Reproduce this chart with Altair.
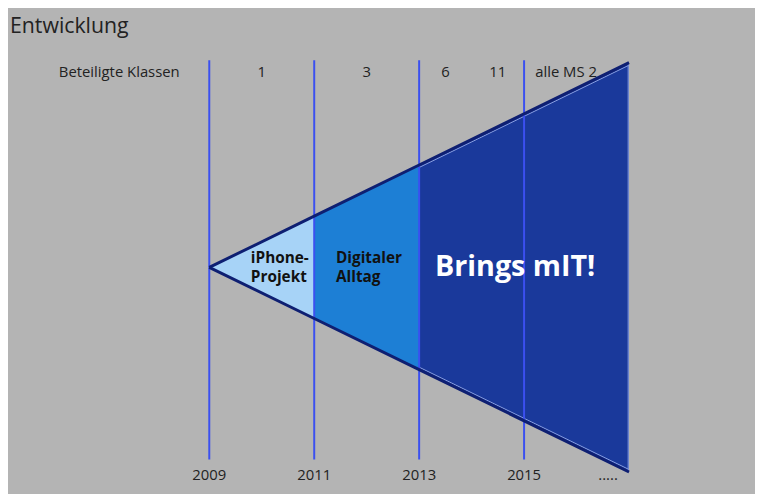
import altair as alt
import pandas as pd

# ---- data ----
phases = ["iPhone-Projekt", "Digitaler Alltag", "Brings mIT!"]
phase_labels = ["iPhone-\nProjekt", "Digitaler\nAlltag", "Brings mIT!"]
phase_start = [2009, 2011, 2013]
phase_end = [2011, 2013, 2017]
# half width of the wedge (percent of final width) at each boundary year
edge_years = [2009, 2011, 2013, 2017]
edge_spread = [0, 25, 50, 100]

rule_years = [2009, 2011, 2013, 2015]
tick_labels = ["2009", "2011", "2013", "2015"]

klassen_start = [2009, 2011, 2013, 2014, 2015]
klassen_end = [2011, 2013, 2014, 2015, 2016.6]
klassen_labels = ["1", "3", "6", "11", "alle MS 2"]

more_year = [2016.6]
more_label = ["....."]

phase_colors = ["#a7d3f7", "#1d7fd5", "#1a399b"]

spread = dict(zip(edge_years, edge_spread))

area_rows = []
for p, s, e in zip(phases, phase_start, phase_end):
    for yr in (s, e):
        area_rows.append({"phase": p, "year": yr, "top": spread[yr], "bottom": -spread[yr]})
area_df = pd.DataFrame(area_rows)

edge_rows = []
for yr, sp in zip(edge_years, edge_spread):
    edge_rows.append({"side": "oben", "year": yr, "v": sp})
    edge_rows.append({"side": "unten", "year": yr, "v": -sp})
edge_df = pd.DataFrame(edge_rows)

rule_df = pd.DataFrame({"year": rule_years, "label": tick_labels})
klassen_df = pd.DataFrame({"start": klassen_start, "end": klassen_end, "label": klassen_labels})

xscale = alt.Scale(domain=[2005.164, 2019.401], nice=False, zero=False)
yscale = alt.Scale(domain=[-109.5, 110.0], nice=False, zero=False)


def X(f):
    return alt.X(f, scale=xscale, axis=None)


def Y(f):
    return alt.Y(f, scale=yscale, axis=None)


areas = alt.Chart(area_df).mark_area(opacity=1).encode(
    x=X("year:Q"),
    y=alt.Y("top:Q", scale=yscale, axis=None, stack=None),
    y2="bottom:Q",
    color=alt.Color("phase:N", scale=alt.Scale(domain=phases, range=phase_colors), legend=None),
    detail="phase:N",
)

rules = alt.Chart(rule_df).transform_calculate(
    ytop="101.2", ybot="-93.9"
).mark_rule(color="#3b50f0", strokeWidth=2).encode(
    x=X("year:Q"), y=Y("ytop:Q"), y2="ybot:Q"
)

edges = alt.Chart(edge_df).mark_line(color="#0e1f72", strokeWidth=3).encode(
    x=X("year:Q"), y=Y("v:Q"), detail="side:N"
)

# thin light inner highlight along the dark part of the wedge
glow_top = alt.Chart(edge_df).transform_filter(
    (alt.datum.side == "oben") & (alt.datum.year >= 2013)
).mark_line(color="#8a9fe0", strokeWidth=1, yOffset=2.5).encode(
    x=X("year:Q"), y=Y("v:Q")
)
glow_bot = alt.Chart(edge_df).transform_filter(
    (alt.datum.side == "unten") & (alt.datum.year >= 2013)
).mark_line(color="#8a9fe0", strokeWidth=1, yOffset=-2.5).encode(
    x=X("year:Q"), y=Y("v:Q")
)
glow_right = alt.Chart(edge_df).transform_filter(
    (alt.datum.side == "oben") & (alt.datum.year == 2017)
).transform_calculate(vb="-datum.v").mark_rule(
    color="#7f95da", strokeWidth=1.2, xOffset=-0.8
).encode(x=X("year:Q"), y=Y("v:Q"), y2="vb:Q")

label_font = dict(font="Open Sans", fontSize=15, color="#222222", baseline="middle")

year_text = alt.Chart(rule_df).transform_calculate(yy="-101.7").mark_text(
    **label_font
).encode(x=X("year:Q"), y=Y("yy:Q"), text="label:N")

dots = alt.Chart(pd.DataFrame({"year": more_year, "label": more_label})).transform_calculate(
    yy="-101.7"
).mark_text(**label_font).encode(x=X("year:Q"), y=Y("yy:Q"), text="label:N")

klassen_text = alt.Chart(klassen_df).transform_calculate(
    mid="(datum.start + datum.end) / 2", yy="95.3"
).mark_text(**label_font).encode(x=X("mid:Q"), y=Y("yy:Q"), text="label:N")

row_label = alt.Chart(pd.DataFrame({"label": ["Beteiligte Klassen"], "year": [2009]})).transform_calculate(
    yy="95.3"
).mark_text(dx=-91, **label_font).encode(x=X("year:Q"), y=Y("yy:Q"), text="label:N")

phase_df = pd.DataFrame({"phase": phases, "label": phase_labels, "start": phase_start})
offsets = [42, 22, 16]
dys = [-9.5, -9.5, 0]
sizes = [15.5, 15.5, 29]
colors = ["#111111", "#111111", "#ffffff"]
phase_text = []
for i, p in enumerate(phases):
    phase_text.append(
        alt.Chart(phase_df).transform_filter(alt.datum.phase == p).transform_calculate(
            yy="0"
        ).mark_text(
            font="Open Sans", fontWeight="bold", fontSize=sizes[i], color=colors[i],
            align="left", baseline="middle", lineBreak="\n", lineHeight=19,
            dx=offsets[i], dy=dys[i]
        ).encode(x=X("start:Q"), y=Y("yy:Q"), text="label:N")
    )

chart = alt.layer(
    areas, glow_top, glow_bot, glow_right, rules, edges,
    year_text, dots, klassen_text, row_label, *phase_text
).properties(
    width=755,
    height=486,
    autosize=alt.AutoSizeParams(type="fit", contains="padding"),
    padding={"left": 0, "top": 5, "right": 0, "bottom": 0},
    background="#b4b4b4",
    title=alt.TitleParams(
        "Entwicklung", anchor="start", fontSize=21.5, font="Open Sans",
        fontWeight="normal", color="#222222", offset=5, dx=2
    ),
).configure_view(stroke=None)

chart.save("out.html", embed_options={"renderer": "svg", "actions": False})
